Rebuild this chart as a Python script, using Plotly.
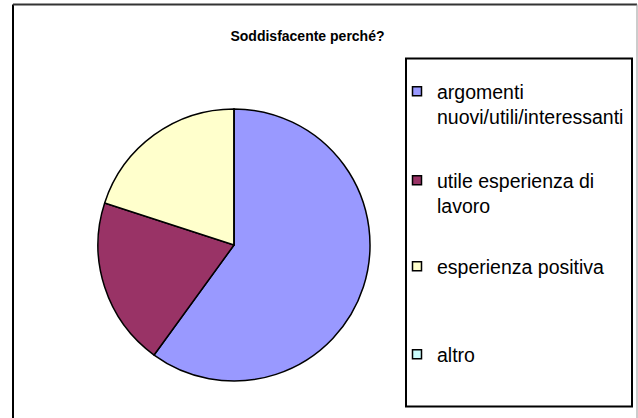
import plotly.graph_objects as go

# ---- data ----
categories = [
    "argomenti<br>nuovi/utili/interessanti",
    "utile esperienza di<br>lavoro",
    "esperienza positiva",
    "altro",
]
values = [9, 3, 3, 0]
colors = ["#9999FF", "#993366", "#FFFFCC", "#CCFFFF"]
title_text = "Soddisfacente perché?"

W, H = 638, 418

def px(x):
    return x / W

def py(y):
    return 1 - y / H

fig = go.Figure()

fig.add_trace(go.Pie(
    labels=categories,
    values=values,
    marker=dict(colors=colors, line=dict(color="black", width=1.5)),
    sort=False,
    direction="clockwise",
    rotation=0,
    textinfo="none",
    showlegend=False,
    domain=dict(x=[px(98), px(370)], y=[py(381), py(109)]),
))

# legend entries (one legend each, to match the evenly spaced original legend)
legend_tops = [72, 161, 247, 335]
legend_names = ["legend", "legend2", "legend3", "legend4"]
for cat, col, lg in zip(categories, colors, legend_names):
    fig.add_trace(go.Scatter(
        x=[None], y=[None], mode="markers", name=cat,
        marker=dict(symbol="square", size=9, color=col,
                    line=dict(color="black", width=1.5)),
        legend=lg, showlegend=True, hoverinfo="skip",
    ))

legend_font = dict(family="Liberation Sans, Arial, sans-serif", size=19.5, color="black")
layout_legends = {}
for lg, top in zip(legend_names, legend_tops):
    layout_legends[lg] = dict(
        x=px(397), y=py(top), xanchor="left", yanchor="top",
        bgcolor="rgba(0,0,0,0)", borderwidth=0, font=legend_font,
        valign="top", itemclick=False, itemdoubleclick=False,
    )

fig.update_layout(
    width=W, height=H, autosize=False,
    margin=dict(l=0, r=0, t=0, b=0),
    paper_bgcolor="white", plot_bgcolor="white",
    xaxis=dict(visible=False, range=[0, 1]),
    yaxis=dict(visible=False, range=[0, 1]),
    title=dict(
        text="<b>" + title_text + "</b>",
        x=px(307.5), y=py(36), xanchor="center", yanchor="middle",
        font=dict(family="Liberation Sans, Arial, sans-serif", size=14, color="black"),
    ),
    shapes=[
        # outer chart border
        dict(type="line", xref="paper", yref="paper", x0=px(13), x1=px(13), y0=-0.05, y1=py(4.5),
             line=dict(color="black", width=2)),
        dict(type="line", xref="paper", yref="paper", x0=px(13), x1=px(637), y0=py(4.5), y1=py(4.5),
             line=dict(color="#333333", width=2)),
        dict(type="line", xref="paper", yref="paper", x0=px(637), x1=px(637), y0=-0.05, y1=py(4.5),
             line=dict(color="#999999", width=1)),
        # legend box
        dict(type="rect", xref="paper", yref="paper", x0=px(406), x1=px(632), y0=py(406.5), y1=py(58.5),
             line=dict(color="black", width=2), fillcolor="rgba(0,0,0,0)"),
    ],
    **layout_legends,
)

fig.write_html(
    "out.html",
    config={"displayModeBar": False},
    post_script="document.body.style.margin='0';document.body.style.overflow='hidden';",
)
